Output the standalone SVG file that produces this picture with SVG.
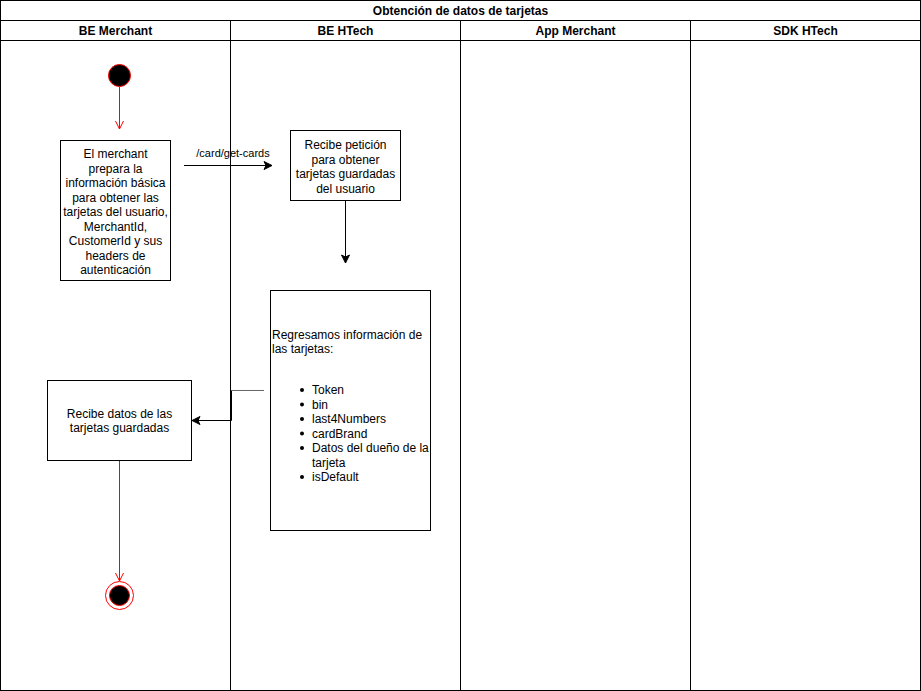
<svg xmlns="http://www.w3.org/2000/svg" width="921" height="691" viewBox="0 0 921 691">
<defs>
<style>
text{font-family:"Liberation Sans",Arial,sans-serif;font-size:12px;fill:#000}
.h{font-weight:bold;text-anchor:middle}
.c{text-anchor:middle}
.lbl{font-size:11px;text-anchor:middle}
.box{fill:#fff;stroke:#000;stroke-width:1}
.lane{fill:none;stroke:#000;stroke-width:1}
</style>
<marker id="blk" markerWidth="10" markerHeight="10" refX="9" refY="5" orient="auto" markerUnits="userSpaceOnUse">
<path d="M1,1 L9,5 L1,9 L3,5 Z" fill="#000" stroke="#000"/>
</marker>
<marker id="red" markerWidth="12" markerHeight="12" refX="6" refY="11" orient="0" markerUnits="userSpaceOnUse">
<path d="M2,3 L6,11 L10,3" fill="none" stroke="#f00"/>
</marker>
</defs>
<g id="pool">
<rect class="lane" x="0.5" y="0.5" width="920" height="690"/>
<line class="lane" x1="0.5" y1="20.5" x2="920.5" y2="20.5"/>
<line class="lane" x1="0.5" y1="40.5" x2="920.5" y2="40.5"/>
<line class="lane" x1="230.5" y1="20.5" x2="230.5" y2="690.5"/>
<line class="lane" x1="460.5" y1="20.5" x2="460.5" y2="690.5"/>
<line class="lane" x1="690.5" y1="20.5" x2="690.5" y2="690.5"/>
<text class="h" x="460.5" y="15">Obtención de datos de tarjetas</text>
<text class="h" x="115.5" y="35">BE Merchant</text>
<text class="h" x="345.5" y="35">BE HTech</text>
<text class="h" x="575.5" y="35">App Merchant</text>
<text class="h" x="805.5" y="35">SDK HTech</text>
</g>
<g id="connectors">
<line x1="119.5" y1="87" x2="119.5" y2="129" stroke="#f00" marker-end="url(#red)"/>
<line x1="184" y1="165.5" x2="272" y2="165.5" stroke="#000" marker-end="url(#blk)"/>
<text class="lbl" x="233" y="157">/card/get-cards</text>
<line x1="345.5" y1="200" x2="345.5" y2="263" stroke="#000" marker-end="url(#blk)"/>
<polyline points="264,390.5 231.5,390.5" fill="none" stroke="#666"/>
<polyline points="231.5,390.5 231.5,420.5 192,420.5" fill="none" stroke="#000" marker-end="url(#blk)"/>
<line x1="119.5" y1="460" x2="119.5" y2="581" stroke="#f00" marker-end="url(#red)"/>
</g>
<g id="start">
<circle cx="119.5" cy="75.5" r="11" fill="#000" stroke="#f00"/>
</g>
<g id="prepare">
<rect class="box" x="60.5" y="140.5" width="110" height="140"/>
<text class="c" x="115.5" y="158">El merchant</text>
<text class="c" x="115.5" y="172.5">prepara la</text>
<text class="c" x="115.5" y="187">información básica</text>
<text class="c" x="115.5" y="201.5">para obtener las</text>
<text class="c" x="115.5" y="216">tarjetas del usuario,</text>
<text class="c" x="115.5" y="230.5">MerchantId,</text>
<text class="c" x="115.5" y="245">CustomerId y sus</text>
<text class="c" x="115.5" y="259.5">headers de</text>
<text class="c" x="115.5" y="274">autenticación</text>
</g>
<g id="receive-request">
<rect class="box" x="290.5" y="130.5" width="110" height="70"/>
<text class="c" x="345.5" y="149">Recibe petición</text>
<text class="c" x="345.5" y="163.5">para obtener</text>
<text class="c" x="345.5" y="178">tarjetas guardadas</text>
<text class="c" x="345.5" y="192.5">del usuario</text>
</g>
<g id="return-info">
<rect class="box" x="270.5" y="290.5" width="160" height="240"/>
<text x="272" y="338.5">Regresamos información de</text>
<text x="272" y="353">las tarjetas:</text>
<g>
<circle cx="302" cy="390" r="2"/><text x="312" y="394">Token</text>
<circle cx="302" cy="404.5" r="2"/><text x="312" y="408.5">bin</text>
<circle cx="302" cy="419" r="2"/><text x="312" y="423">last4Numbers</text>
<circle cx="302" cy="433.5" r="2"/><text x="312" y="437.5">cardBrand</text>
<circle cx="302" cy="448" r="2"/><text x="312" y="452">Datos del dueño de la</text>
<text x="312" y="466.5">tarjeta</text>
<circle cx="302" cy="477" r="2"/><text x="312" y="481">isDefault</text>
</g>
</g>
<g id="receive-data">
<rect class="box" x="47.5" y="380.5" width="144" height="80"/>
<text class="c" x="119.5" y="417.5">Recibe datos de las</text>
<text class="c" x="119.5" y="432">tarjetas guardadas</text>
</g>
<g id="end">
<circle cx="119.5" cy="595.5" r="14" fill="#fff" stroke="#f00"/>
<circle cx="119.5" cy="595.5" r="10" fill="#000" stroke="#f00"/>
</g>
</svg>
